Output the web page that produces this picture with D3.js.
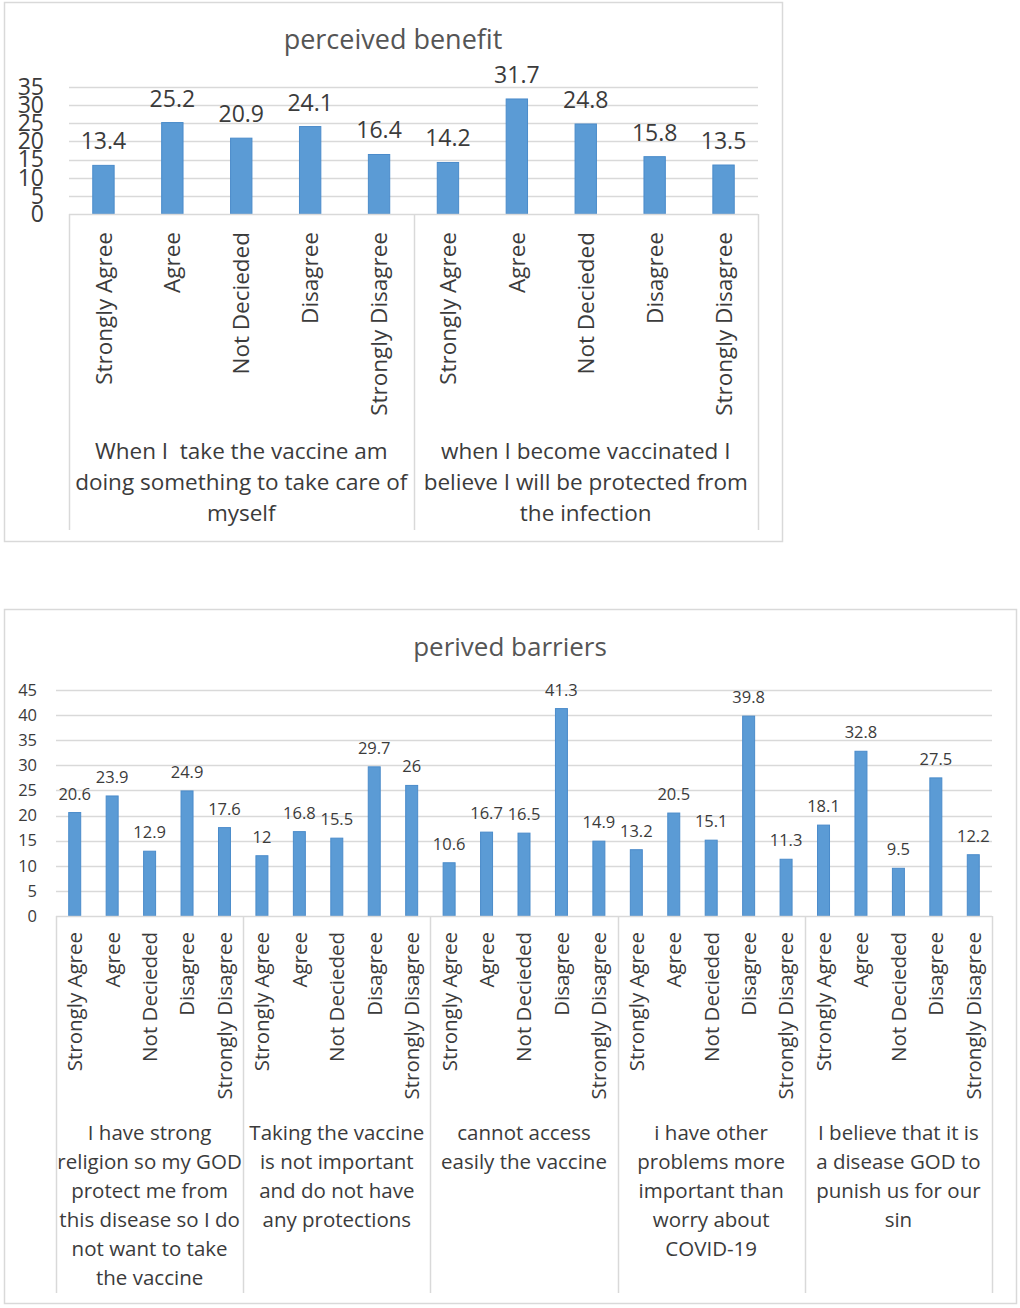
<!DOCTYPE html>
<html lang="en">
<head>
  <meta charset="UTF-8">
  <title>perceived benefit / perived barriers</title>
  <style>
    body { margin: 0; background: #fff; }
    svg { display: block; font-family: "Open Sans", sans-serif; }
    .pre { white-space: pre; }
  </style>
</head>
<body>
  <svg id="svg" width="1020" height="1308"></svg>

  <script src="https://d3js.org/d3.v7.min.js"></script>
  <script>
    // answer levels, shared by both charts
    var levels = ["Strongly Agree", "Agree", "Not Decieded", "Disagree", "Strongly Disagree"];

    // perceived benefit
    var benefitGroups = [
      ["When I  take the vaccine am", "doing something to take care of", "myself"],
      ["when I become vaccinated I", "believe I will be protected from", "the infection"]
    ];
    var benefitValues = [
      [13.4, 25.2, 20.9, 24.1, 16.4],
      [14.2, 31.7, 24.8, 15.8, 13.5]
    ];
    var benefitTicks = [0, 5, 10, 15, 20, 25, 30, 35];

    // perived barriers
    var barrierGroups = [
      ["I have strong", "religion so my GOD", "protect me from", "this disease so I do", "not want to take", "the vaccine"],
      ["Taking the vaccine", "is not important", "and do not have", "any protections"],
      ["cannot access", "easily the vaccine"],
      ["i have other", "problems more", "important than", "worry about", "COVID-19"],
      ["I believe that it is", "a disease GOD to", "punish us for our", "sin"]
    ];
    var barrierValues = [
      [20.6, 23.9, 12.9, 24.9, 17.6],
      [12, 16.8, 15.5, 29.7, 26],
      [10.6, 16.7, 16.5, 41.3, 14.9],
      [13.2, 20.5, 15.1, 39.8, 11.3],
      [18.1, 32.8, 9.5, 27.5, 12.2]
    ];
    var barrierTicks = [0, 5, 10, 15, 20, 25, 30, 35, 40, 45];

    var svg = d3.select("svg");
    var grid = "#d9d9d9", ink = "#3b3b3b";

    function drawChart(o) {
      var g = svg.append("g");

      g.append("rect")
        .attr("x", o.box[0] + 0.5).attr("y", o.box[1] + 0.5)
        .attr("width", o.box[2]).attr("height", o.box[3])
        .attr("fill", "#fff").attr("stroke", grid).attr("stroke-width", 1.5);

      g.append("text")
        .attr("x", o.titleX).attr("y", o.titleY)
        .attr("text-anchor", "middle")
        .attr("font-size", o.titleSize)
        .attr("fill", "#555")
        .text(o.title);

      // flat rows: one per bar
      var rows = [];
      o.values.forEach(function (vals, gi) {
        vals.forEach(function (v, li) {
          rows.push({ key: gi + "-" + li, group: gi, level: levels[li], value: v });
        });
      });

      var x = d3.scaleBand()
        .domain(rows.map(function (d) { return d.key; }))
        .range([o.left, o.right])
        .paddingInner(o.pad).paddingOuter(o.pad / 2);

      var xGroup = d3.scaleLinear()
        .domain([0, o.values.length])
        .range([o.left, o.right]);

      var y = d3.scaleLinear()
        .domain([0, d3.max(o.ticks)])
        .range([o.bottom, o.top]);

      // gridlines
      g.append("g")
        .selectAll("line")
        .data(o.ticks.slice(1))
        .enter().append("line")
        .attr("x1", o.left).attr("x2", o.right)
        .attr("y1", function (d) { return Math.round(y(d)) + 0.5; })
        .attr("y2", function (d) { return Math.round(y(d)) + 0.5; })
        .attr("stroke", grid).attr("stroke-width", 1.5);

      // y labels
      var yAxis = g.append("g")
        .attr("transform", "translate(" + o.yLabelX + ",0)")
        .call(d3.axisLeft(y).tickValues(o.ticks).tickSize(0).tickPadding(0));
      yAxis.select(".domain").remove();
      yAxis.selectAll("text")
        .attr("font-family", "Open Sans, sans-serif")
        .attr("font-size", o.yLabelSize)
        .attr("fill", ink);

      // bars
      g.append("g")
        .selectAll("rect")
        .data(rows)
        .enter().append("rect")
        .attr("x", function (d) { return x(d.key); })
        .attr("y", function (d) { return y(d.value); })
        .attr("width", x.bandwidth())
        .attr("height", function (d) { return y(0) - y(d.value); })
        .attr("fill", "#5b9bd5")
        .attr("stroke", "#4a8bca").attr("stroke-width", 1);

      // data labels
      g.append("g")
        .selectAll("text")
        .data(rows)
        .enter().append("text")
        .attr("x", function (d) { return x(d.key) + x.bandwidth() / 2; })
        .attr("y", function (d) { return y(d.value) - o.valueGap; })
        .attr("text-anchor", "middle")
        .attr("font-size", o.valueSize)
        .attr("fill", ink)
        .text(function (d) { return d.value; });

      // category axis line and group separators
      g.append("line")
        .attr("x1", o.left).attr("x2", o.right)
        .attr("y1", o.bottom + 0.5).attr("y2", o.bottom + 0.5)
        .attr("stroke", grid).attr("stroke-width", 1.5);

      g.append("g")
        .selectAll("line")
        .data(d3.range(o.values.length + 1))
        .enter().append("line")
        .attr("x1", function (d) { return Math.round(xGroup(d)) + 0.5; })
        .attr("x2", function (d) { return Math.round(xGroup(d)) + 0.5; })
        .attr("y1", o.bottom).attr("y2", o.axisEnd)
        .attr("stroke", grid).attr("stroke-width", 1.5);

      // rotated level labels
      g.append("g")
        .selectAll("text")
        .data(rows)
        .enter().append("text")
        .attr("transform", function (d) {
          return "translate(" + (x(d.key) + x.bandwidth() / 2) + "," + o.levelTop + ")rotate(-90)";
        })
        .attr("dy", "0.36em")
        .attr("text-anchor", "end")
        .attr("font-size", o.levelSize)
        .attr("fill", ink)
        .text(function (d) { return d.level; });

      // group labels
      var grp = g.append("g")
        .selectAll("text")
        .data(o.groups)
        .enter().append("text")
        .attr("class", "pre")
        .attr("text-anchor", "middle")
        .attr("font-size", o.groupSize)
        .attr("fill", ink);

      grp.selectAll("tspan")
        .data(function (d, i) { return d.map(function (t) { return { t: t, i: i }; }); })
        .enter().append("tspan")
        .attr("x", function (d) { return (xGroup(d.i) + xGroup(d.i + 1)) / 2; })
        .attr("y", function (d, j) { return o.groupTop + j * o.groupLine; })
        .text(function (d) { return d.t; });
    }

    drawChart({
      title: "perceived benefit",
      box: [4, 2, 778, 539],
      titleX: 393, titleY: 49, titleSize: 27,
      left: 69, right: 758, top: 87, bottom: 214,
      pad: 0.69,
      values: benefitValues, groups: benefitGroups, ticks: benefitTicks,
      yLabelX: 44, yLabelSize: 23,
      valueSize: 23, valueGap: 16,
      levelTop: 232, levelSize: 22.5,
      groupTop: 459, groupLine: 31, groupSize: 22.5,
      axisEnd: 530
    });

    drawChart({
      title: "perived barriers",
      box: [4, 609, 1012, 694],
      titleX: 510, titleY: 656, titleSize: 26,
      left: 56, right: 992, top: 690, bottom: 916,
      pad: 0.68,
      values: barrierValues, groups: barrierGroups, ticks: barrierTicks,
      yLabelX: 37, yLabelSize: 16.5,
      valueSize: 16.5, valueGap: 13,
      levelTop: 932, levelSize: 20.5,
      groupTop: 1140, groupLine: 29, groupSize: 20.5,
      axisEnd: 1293
    });
  </script>
</body>
</html>
